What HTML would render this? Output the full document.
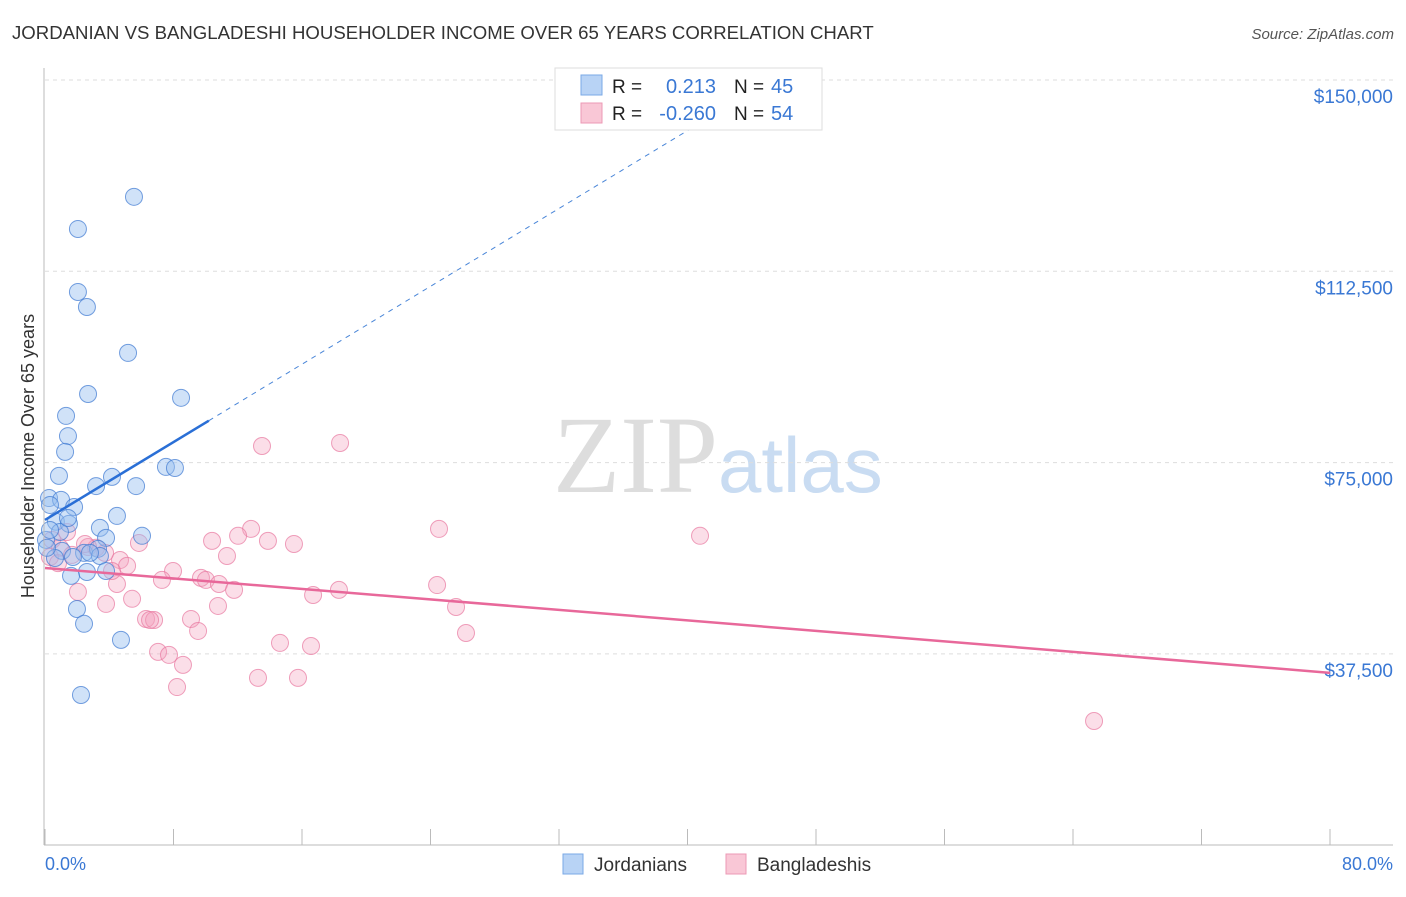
<!DOCTYPE html>
<html><head><meta charset="utf-8"><style>
body{margin:0;background:#fff;font-family:"Liberation Sans",sans-serif}
</style></head><body>
<svg id="c" width="1406" height="892" xmlns="http://www.w3.org/2000/svg" style="font-family:'Liberation Sans',sans-serif">
<text x="12" y="39" font-size="18.6" fill="#333">JORDANIAN VS BANGLADESHI HOUSEHOLDER INCOME OVER 65 YEARS CORRELATION CHART</text>
<text x="1394" y="39" font-size="15" fill="#555" font-style="italic" text-anchor="end">Source: ZipAtlas.com</text>
<text x="34" y="456" font-size="18" fill="#333" text-anchor="middle" transform="rotate(-90 34 456)">Householder Income Over 65 years</text>
<text x="553" y="492" font-size="110" fill="#ddd" font-family="Liberation Serif">ZIP</text>
<text x="718" y="492" font-size="78" fill="#c9dcf2">atlas</text>
<g id="grid"></g><g id="pts"></g><g id="lines"></g>
<line x1="44" y1="68" x2="44" y2="845" stroke="#bbb"/>
<line x1="44" y1="845" x2="1393" y2="845" stroke="#bbb"/>
<text x="45" y="870" font-size="18" fill="#3a78d4">0.0%</text>
<text x="1393" y="870" font-size="18" fill="#3a78d4" text-anchor="end">80.0%</text>
<g>
<rect x="555" y="68" width="267" height="62" fill="#fff" stroke="#ddd"/>
<rect x="581" y="75" width="21" height="20" fill="#b8d3f5" stroke="#7aa8e6"/>
<rect x="581" y="103" width="21" height="20" fill="#f9c7d6" stroke="#ec9ab5"/>
<text x="612" y="93" font-size="19" fill="#222">R = </text><text x="716" y="93" font-size="20" fill="#3a78d4" text-anchor="end">0.213</text>
<text x="734" y="93" font-size="19" fill="#222">N = </text><text x="771" y="93" font-size="20" fill="#3a78d4">45</text>
<text x="612" y="120" font-size="19" fill="#222">R = </text><text x="716" y="120" font-size="20" fill="#3a78d4" text-anchor="end">-0.260</text>
<text x="734" y="120" font-size="19" fill="#222">N = </text><text x="771" y="120" font-size="20" fill="#3a78d4">54</text>
</g>
<g>
<rect x="563" y="854" width="20" height="20" fill="#b8d3f5" stroke="#7aa8e6"/>
<text x="594" y="871" font-size="19" fill="#333">Jordanians</text>
<rect x="726" y="854" width="20" height="20" fill="#f9c7d6" stroke="#ec9ab5"/>
<text x="757" y="871" font-size="19" fill="#333">Bangladeshis</text>
</g>
</svg>
<script>
const yTicks=[150000,112500,75000,37500];
const yTickLabels=["$150,000","$112,500","$75,000","$37,500"];
const xTicks=[0,8,16,24,32,40,48,56,64,72,80];
const jordX=[5.54,2.05,2.05,2.61,5.17,2.68,8.47,1.31,1.43,1.25,0.87,7.53,8.09,3.18,4.17,5.67,0.25,1.00,0.31,1.81,4.48,0.68,1.49,3.42,6.04,3.80,0.93,0.06,1.06,2.43,3.30,3.42,1.74,2.61,3.80,1.62,1.99,2.43,4.73,2.24,0.62,0.12,1.43,0.31,2.80];
const jordY=[127100,120800,108450,105500,96500,88450,87700,84150,80200,77100,72400,74150,73950,70400,72200,70400,68050,67700,66700,66300,64550,63400,63000,62200,60650,60250,61400,59850,57700,57300,58100,56700,56500,53550,53750,52800,46300,43400,40250,29450,56300,58300,64150,61800,57300];
const bangX=[18.37,13.51,24.53,12.83,12.02,10.40,13.88,15.50,40.78,5.85,1.37,0.44,3.18,4.67,5.11,3.74,11.33,7.97,9.71,10.02,7.28,10.83,11.77,4.48,24.41,18.30,16.69,5.42,2.05,3.80,10.77,25.59,6.29,6.79,6.54,9.09,9.53,26.21,14.63,16.56,7.04,7.72,8.59,13.26,15.75,8.22,65.31,0.93,1.68,2.68,4.17,0.31,0.81,2.49];
const bangY=[78850,78250,62000,62000,60650,59650,59650,59050,60650,59250,61400,59850,58300,55900,54750,57300,56700,53750,52400,52000,52000,51200,50050,51200,51000,50050,49050,48300,49650,47300,46900,46700,44350,44150,44150,44350,42000,41600,39650,39050,37900,37300,35350,32800,32800,31000,24350,58300,56900,58450,53750,56500,55300,59050];
const jordTrend=[63760,1908];
const bangTrend=[54350,-257];
const NS="http://www.w3.org/2000/svg";
const X=v=>45+v/80*1285;
const Y=v=>80+(150000-v)/37500*191.3;
function mk(tag,a,p){const e=document.createElementNS(NS,tag);for(const k in a)e.setAttribute(k,a[k]);p.appendChild(e);return e;}
const grid=document.getElementById('grid'),pts=document.getElementById('pts'),lines=document.getElementById('lines');
yTicks.forEach((t,i)=>{
 const l=mk('line',{x1:45,x2:1393,y1:Y(t),y2:Y(t),stroke:'#ddd','stroke-dasharray':'4,4'},grid);
 
 
 const tx=mk('text',{x:1393,y:Y(t)+23,'font-size':19,fill:'#3a78d4','text-anchor':'end'},grid);
 tx.textContent=yTickLabels[i];
 
 
});
xTicks.forEach(t=>{
 const l=mk('line',{x1:X(t),x2:X(t),y1:829,y2:845,stroke:'#bbb'},grid);
 
 
});
bangX.forEach((x,i)=>{
 const c=mk('circle',{cx:X(x),cy:Y(bangY[i]),r:8.5,fill:'rgba(244,160,188,0.35)',stroke:'rgba(232,120,160,0.7)','stroke-width':1},pts);
 
 
});
jordX.forEach((x,i)=>{
 const c=mk('circle',{cx:X(x),cy:Y(jordY[i]),r:8.5,fill:'rgba(150,190,240,0.45)',stroke:'rgba(60,120,210,0.7)','stroke-width':1},pts);
 
 
});
const jf=x=>jordTrend[0]+jordTrend[1]*x, bf=x=>bangTrend[0]+bangTrend[1]*x;
const xEnd=(150000-jordTrend[0])/jordTrend[1];
let l=mk('line',{x1:X(10.2),y1:Y(jf(10.2)),x2:X(Math.min(xEnd,80)),y2:Y(jf(Math.min(xEnd,80))),stroke:'#4a86d8','stroke-width':1,'stroke-dasharray':'5,5'},lines);


l=mk('line',{x1:X(0),y1:Y(jf(0)),x2:X(10.2),y2:Y(jf(10.2)),stroke:'#2a6fd6','stroke-width':2.5},lines);


l=mk('line',{x1:X(0),y1:Y(bf(0)),x2:X(80),y2:Y(bf(80)),stroke:'#e8689a','stroke-width':2.5},lines);


</script>
</body></html>
